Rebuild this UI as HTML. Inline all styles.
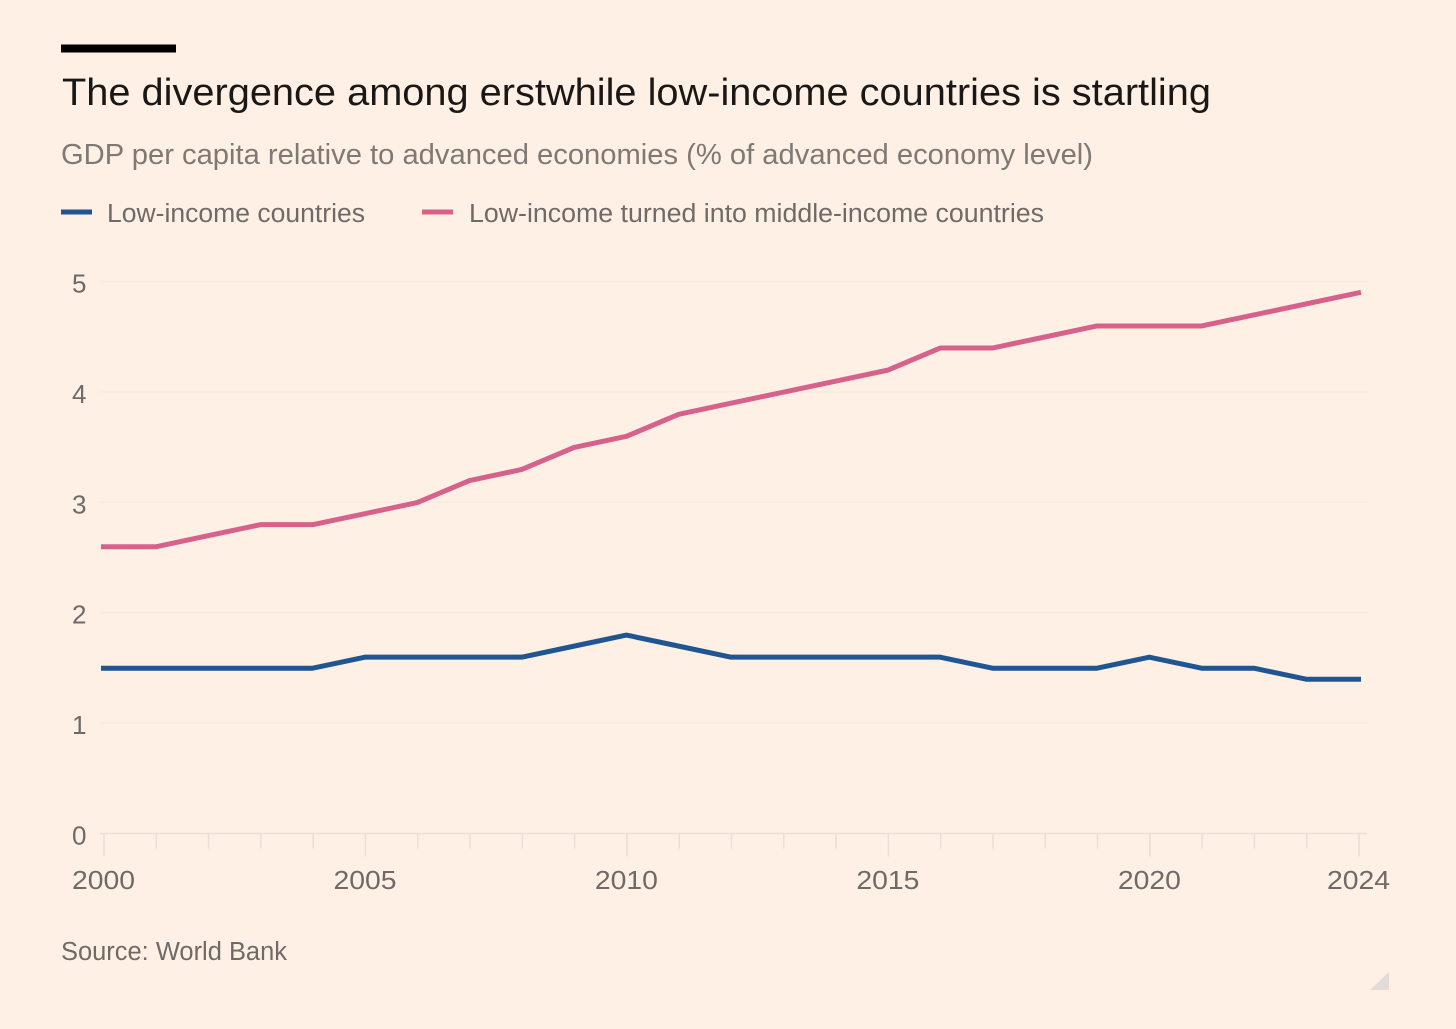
<!DOCTYPE html>
<html lang="en">
<head>
<meta charset="utf-8">
<title>The divergence among erstwhile low-income countries is startling</title>
<style>
  html, body { margin: 0; padding: 0; background: #fff0e5; }
  svg { display: block; }
  text { font-family: "Liberation Sans", sans-serif; }
</style>
</head>
<body>
<svg id="chart" xmlns="http://www.w3.org/2000/svg" width="1456" height="1029" viewBox="0 0 1456 1029">
  <rect x="0" y="0" width="1456" height="1029" fill="#fff0e5"/>
  <rect x="61" y="44.5" width="115" height="8" fill="#000"/>
  <text x="62" y="105" font-size="38" fill="#1a1817" textLength="1149" lengthAdjust="spacingAndGlyphs">The divergence among erstwhile low-income countries is startling</text>
  <text x="61" y="164" font-size="29" fill="#7f7976" textLength="1032" lengthAdjust="spacingAndGlyphs">GDP per capita relative to advanced economies (% of advanced economy level)</text>

  <g>
    <rect x="61" y="209.5" width="31" height="5" fill="#1f5590"/>
    <text x="107" y="222" font-size="25.5" fill="#6f6a67" textLength="258" lengthAdjust="spacingAndGlyphs">Low-income countries</text>
    <rect x="422" y="209.5" width="31" height="5" fill="#d6628c"/>
    <text x="469" y="222" font-size="25.5" fill="#6f6a67" textLength="575" lengthAdjust="spacingAndGlyphs">Low-income turned into middle-income countries</text>
  </g>

  <g id="grid"></g>
  <g id="x-axis"></g>
  <g id="y-axis"></g>
  <g id="series"></g>

  <text x="61" y="960" font-size="25.5" fill="#6f6a67" textLength="226" lengthAdjust="spacingAndGlyphs">Source: World Bank</text>
  <polygon points="1389,972 1389,990 1370,990" fill="#e3dbd8"/>
</svg>

<script>
const years = [2000,2001,2002,2003,2004,2005,2006,2007,2008,2009,2010,2011,2012,2013,2014,2015,2016,2017,2018,2019,2020,2021,2022,2023,2024];
const lowIncome = [1.5,1.5,1.5,1.5,1.5,1.6,1.6,1.6,1.6,1.7,1.8,1.7,1.6,1.6,1.6,1.6,1.6,1.5,1.5,1.5,1.6,1.5,1.5,1.4,1.4];
const turnedMiddleIncome = [2.6,2.6,2.7,2.8,2.8,2.9,3.0,3.2,3.3,3.5,3.6,3.8,3.9,4.0,4.1,4.2,4.4,4.4,4.5,4.6,4.6,4.6,4.7,4.8,4.9];
const yTickValues = [0,1,2,3,4,5];
const xTickLabels = [2000,2005,2010,2015,2020,2024];

const NS = 'http://www.w3.org/2000/svg';
function xScale(year) { return 104 + (year - 2000) * (1359 - 104) / 24; }
function yScale(value) { return 833.5 - value * (833.5 - 281.5) / 5; }
function make(tag, attrs, parent) {
  const el = document.createElementNS(NS, tag);
  for (const key in attrs) el.setAttribute(key, attrs[key]);
  parent.appendChild(el);
  return el;
}

const grid = document.getElementById('grid');
const xAxis = document.getElementById('x-axis');
const yAxis = document.getElementById('y-axis');
const seriesGroup = document.getElementById('series');

yTickValues.forEach(function (v) {
  const isBase = v === 0;
  const line = make('line', { x1: 100, x2: isBase ? 1367 : 1369, y1: yScale(v), y2: yScale(v), stroke: isBase ? '#e9dfd6' : '#f8ebdf', 'stroke-width': 1.5 }, isBase ? xAxis : grid);
  
  
  const label = make('text', { x: 86.5, y: yScale(v) + 11, 'font-size': 26, fill: '#6f6a67', 'text-anchor': 'end' }, yAxis);
  label.textContent = String(v);
  
  
});

years.forEach(function (year) {
  const major = xTickLabels.indexOf(year) !== -1;
  const tick = make('line', { x1: xScale(year), x2: xScale(year), y1: yScale(0), y2: yScale(0) + (major ? 23 : 15), stroke: '#e9dfd6', 'stroke-width': 1.5 }, xAxis);
  
  
});

xTickLabels.forEach(function (year) {
  const label = make('text', { x: xScale(year) - 0.5, y: 889, 'font-size': 26, fill: '#6f6a67', 'text-anchor': 'middle', textLength: 63, lengthAdjust: 'spacingAndGlyphs' }, xAxis);
  label.textContent = String(year);
  
  
});

function pathFor(values) {
  return values.map(function (v, i) {
    return (i === 0 ? 'M' : 'L') + xScale(years[i]).toFixed(2) + ' ' + yScale(v).toFixed(2);
  }).join(' ');
}

const lowLine = make('path', { d: pathFor(lowIncome), fill: 'none', stroke: '#1f5590', 'stroke-width': 5, 'stroke-linejoin': 'round', 'stroke-linecap': 'square', transform: 'translate(-0.5 0.3)' }, seriesGroup);



const midLine = make('path', { d: pathFor(turnedMiddleIncome), fill: 'none', stroke: '#d6628c', 'stroke-width': 5, 'stroke-linejoin': 'round', 'stroke-linecap': 'square', transform: 'translate(-0.5 0.3)' }, seriesGroup);


</script>
</body>
</html>
